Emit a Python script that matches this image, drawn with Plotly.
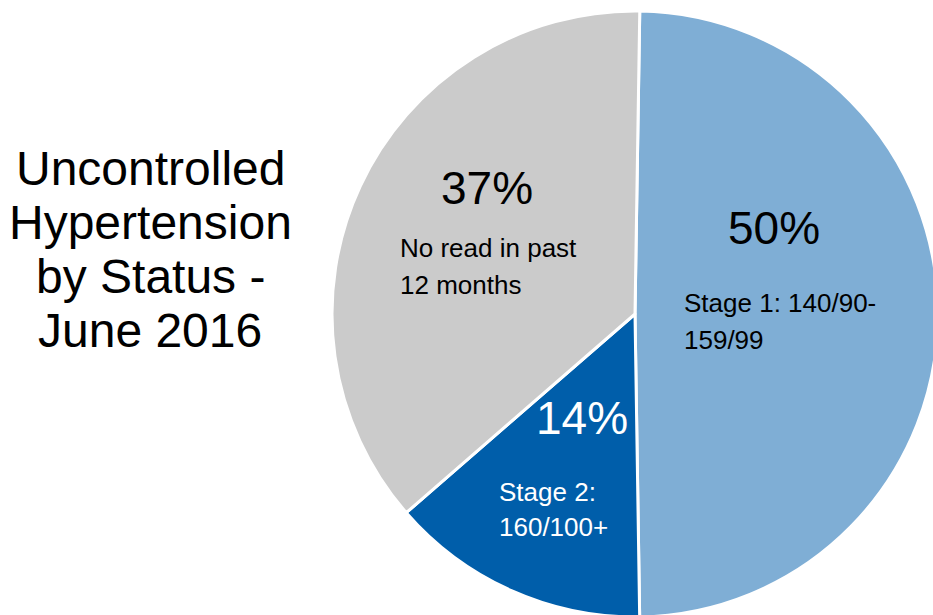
import plotly.graph_objects as go

# Share of patients with uncontrolled hypertension, by status (June 2016)
categories = ["Stage 1", "Stage 2", "No read"]
values = [50, 14, 37]
descriptions = [
    ["Stage 1: 140/90-", "159/99"],
    ["Stage 2:", "160/100+"],
    ["No read in past", "12 months"],
]
title_lines = ["Uncontrolled", "Hypertension", "by Status -", "June 2016"]

colors = ["#7FAED5", "#005EAA", "#CBCBCB"]
label_colors = ["black", "white", "black"]

FONT = "Liberation Sans, Arial, sans-serif"

# Canvas is a little larger than the viewport so the pie runs off the right/bottom edge
W, H = 944, 620
CX, CY, R = 635, 314, 303


def px(x):
    return x / W


def py(y):
    return 1 - y / H


def mid_from_baseline(baseline, size):
    # vertical centre of a text line whose baseline sits at `baseline`
    return py(baseline - 0.3465 * size)


fig = go.Figure(
    go.Pie(
        labels=categories,
        values=values,
        sort=False,
        direction="clockwise",
        rotation=0.9,
        marker=dict(colors=colors, line=dict(color="white", width=3)),
        textinfo="none",
        hoverinfo="label+percent",
        showlegend=False,
        domain=dict(x=[px(CX - R), px(CX + R)], y=[py(CY + R), py(CY - R)]),
    )
)

annotations = []

# Title block on the left, one line per annotation for tight line spacing
TITLE_SIZE = 48
for i, line in enumerate(title_lines):
    annotations.append(dict(
        text=line, x=px(150), y=mid_from_baseline(185 + 54.2 * i, TITLE_SIZE),
        xref="paper", yref="paper", xanchor="center", yanchor="middle",
        showarrow=False, font=dict(family=FONT, size=TITLE_SIZE, color="black"),
    ))

# Slice labels: percentage (centred) and description (left aligned)
PCT_SIZE = 46
DESC_SIZE = 26
pct_pos = [(774, 244), (582, 434), (487, 204)]
desc_pos = [(682, 312), (497, 501), (398, 257)]
desc_gap = [36.6, 35.5, 36.6]

for i, v in enumerate(values):
    annotations.append(dict(
        text=f"{v}%", x=px(pct_pos[i][0]), y=mid_from_baseline(pct_pos[i][1], PCT_SIZE),
        xref="paper", yref="paper", xanchor="center", yanchor="middle",
        showarrow=False, font=dict(family=FONT, size=PCT_SIZE, color=label_colors[i]),
    ))
    for j, line in enumerate(descriptions[i]):
        annotations.append(dict(
            text=line, x=px(desc_pos[i][0]),
            y=mid_from_baseline(desc_pos[i][1] + desc_gap[i] * j, DESC_SIZE),
            xref="paper", yref="paper", xanchor="left", yanchor="middle",
            showarrow=False, font=dict(family=FONT, size=DESC_SIZE, color=label_colors[i]),
        ))

fig.update_layout(
    width=W, height=H,
    margin=dict(l=0, r=0, t=0, b=0, pad=0),
    paper_bgcolor="white",
    plot_bgcolor="white",
    annotations=annotations,
)

fig.write_html(
    "out.html",
    config={"displayModeBar": False},
    post_script=(
        "document.documentElement.style.overflow='hidden';"
        "document.body.style.overflow='hidden';"
        "document.body.style.margin='0';"
    ),
)
